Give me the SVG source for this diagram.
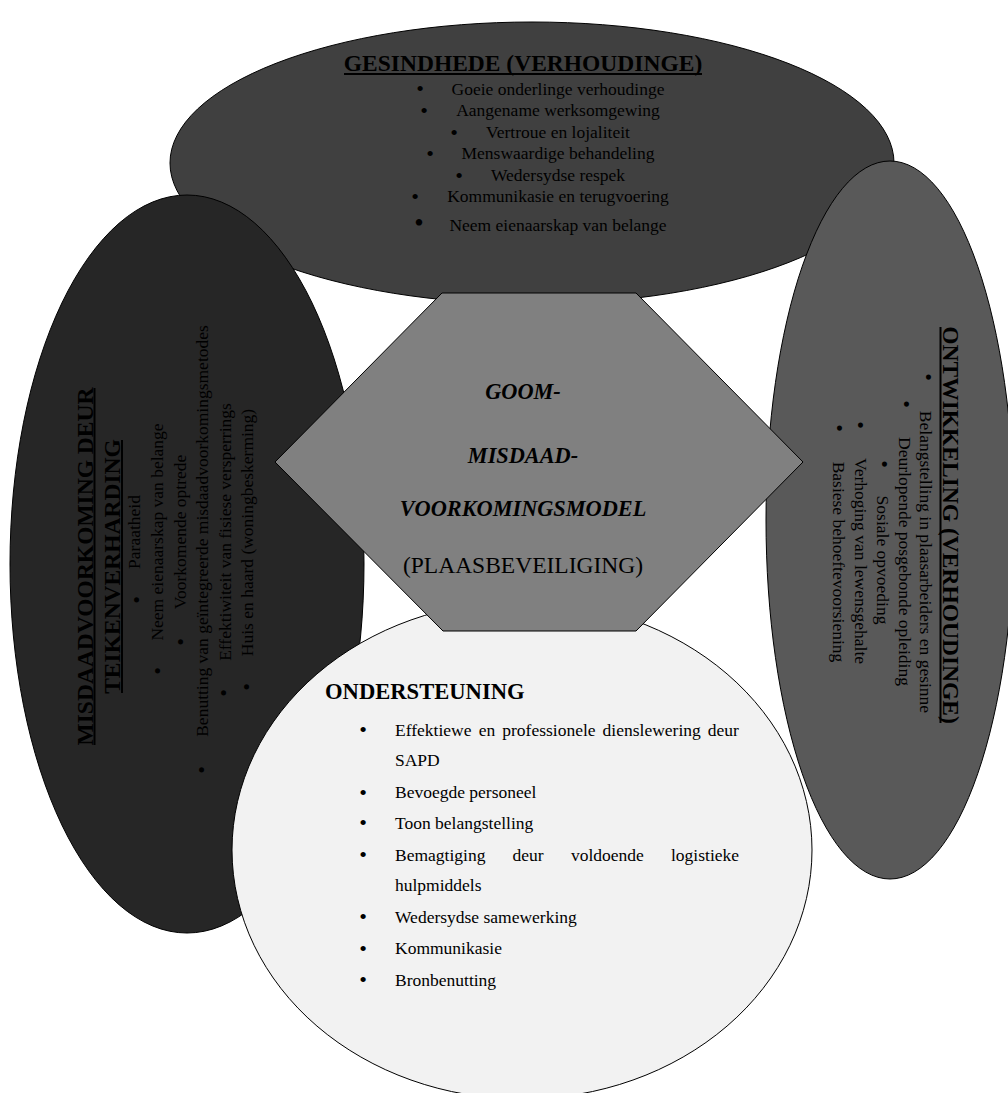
<svg xmlns="http://www.w3.org/2000/svg" width="1008" height="1093" viewBox="0 0 1008 1093">
<style>
.t{font-family:"Liberation Serif","Times New Roman",serif;fill:#000}
.title{font-size:23.5px;font-weight:bold}
.item{font-size:17.5px}
.bul{font-size:22px;text-anchor:middle}
.mid{text-anchor:middle}
.ul{stroke:#000;stroke-width:2}
.shape{stroke:#000;stroke-width:1}
.hexb{font-size:22.3px;font-weight:bold;font-style:italic}
</style>
<rect width="1008" height="1093" fill="#fff"/>

<g id="gesindhede">
<ellipse class="shape" cx="532" cy="163" rx="362" ry="141" fill="#404040"/>
<text class="t title mid" x="523" y="71">GESINDHEDE (VERHOUDINGE)</text>
<line class="ul" x1="344" y1="74" x2="702" y2="74"/>
<g class="t">
<text class="item mid" x="558" y="95">Goeie onderlinge verhoudinge</text>
<text class="item mid" x="558" y="116">Aangename werksomgewing</text>
<text class="item mid" x="558" y="137.5">Vertroue en lojaliteit</text>
<text class="item mid" x="558" y="159">Menswaardige behandeling</text>
<text class="item mid" x="558" y="181">Wedersydse respek</text>
<text class="item mid" x="558" y="202">Kommunikasie en terugvoering</text>
<text class="item mid" x="558" y="231">Neem eienaarskap van belange</text>
<text class="bul" x="420" y="96.3">•</text>
<text class="bul" x="424" y="118">•</text>
<text class="bul" x="454" y="139.7">•</text>
<text class="bul" x="430" y="161">•</text>
<text class="bul" x="459" y="183">•</text>
<text class="bul" x="415" y="203.7">•</text>
<text class="bul" x="419" y="232" style="font-size:27px">•</text>
</g>
</g>

<g id="misdaadvoorkoming">
<ellipse class="shape" cx="187" cy="564" rx="177" ry="369" fill="#262626"/>
<g transform="rotate(-90)" class="t">
<text class="title mid" x="-566.5" y="92.5">MISDAADVOORKOMING DEUR</text>
<line class="ul" x1="-745" y1="94.5" x2="-388" y2="94.5"/>
<text class="title mid" x="-566.5" y="120">TEIKENVERHARDING</text>
<line class="ul" x1="-693" y1="122" x2="-440" y2="122"/>
<text class="item mid" x="-532" y="140">Paraatheid</text>
<text class="item mid" x="-532" y="163">Neem eienaarskap van belange</text>
<text class="item mid" x="-532" y="186">Voorkomende optrede</text>
<text class="item mid" x="-531" y="208">Benutting van geïntegreerde misdaadvoorkomingsmetodes</text>
<text class="item mid" x="-532" y="231">Effektiwiteit van fisiese versperrings</text>
<text class="item mid" x="-532.5" y="253">Huis en haard (woningbeskerming)</text>
<text class="bul" x="-600" y="144">•</text>
<text class="bul" x="-671" y="165">•</text>
<text class="bul" x="-642" y="188">•</text>
<text class="bul" x="-770" y="209">•</text>
<text class="bul" x="-693" y="231">•</text>
<text class="bul" x="-687" y="254">•</text>
</g>
</g>

<g id="ontwikkeling">
<ellipse class="shape" cx="890" cy="520" rx="124" ry="359" fill="#595959"/>
<g transform="rotate(90)" class="t">
<text class="title mid" x="525" y="-943">ONTWIKKELING (VERHOUDINGE)</text>
<line class="ul" x1="327" y1="-940.5" x2="723" y2="-940.5"/>
<text class="item mid" x="562" y="-920">Belangstelling in plaasarbeiders en gesinne</text>
<text class="item mid" x="561.5" y="-899">Deurlopende posgebonde opleiding</text>
<text class="item mid" x="560" y="-877">Sosiale opvoeding</text>
<text class="item mid" x="561" y="-855">Verhoging van lewensgehalte</text>
<text class="item mid" x="562" y="-833">Basiese behoeftevoorsiening</text>
<text class="bul" x="377" y="-921">•</text>
<text class="bul" x="404" y="-899">•</text>
<text class="bul" x="464" y="-877">•</text>
<text class="bul" x="425" y="-853">•</text>
<text class="bul" x="428" y="-832">•</text>
</g>
</g>

<g id="ondersteuning">
<ellipse class="shape" cx="522" cy="850" rx="290" ry="249" fill="#f2f2f2"/>
<g class="t">
<text x="325" y="699" style="font-size:22.6px;font-weight:bold">ONDERSTEUNING</text>
<text class="item" y="736"><tspan x="395">Effektiewe</tspan><tspan x="478.8">en</tspan><tspan x="502.3">professionele</tspan><tspan x="602.6">dienslewering</tspan><tspan x="707.8">deur</tspan></text>
<text class="item" x="395" y="766">SAPD</text>
<text class="item" x="395" y="798">Bevoegde personeel</text>
<text class="item" x="395" y="829">Toon belangstelling</text>
<text class="item" y="861"><tspan x="395">Bemagtiging</tspan><tspan x="512.6">deur</tspan><tspan x="570.9">voldoende</tspan><tspan x="671">logistieke</tspan></text>
<text class="item" x="395" y="891">hulpmiddels</text>
<text class="item" x="395" y="923">Wedersydse samewerking</text>
<text class="item" x="395" y="954">Kommunikasie</text>
<text class="item" x="395" y="986">Bronbenutting</text>
<text class="bul" x="363" y="737">•</text>
<text class="bul" x="363" y="799.7">•</text>
<text class="bul" x="363" y="830.3">•</text>
<text class="bul" x="363" y="862">•</text>
<text class="bul" x="363" y="923.7">•</text>
<text class="bul" x="363" y="956.3">•</text>
<text class="bul" x="363" y="987">•</text>
</g>
</g>

<g id="model">
<polygon class="shape" points="442,293 636,293 803,462 636,631 443,631 275,462" fill="#808080"/>
<g class="t">
<text class="hexb mid" x="523" y="399">GOOM-</text>
<text class="hexb mid" x="523" y="463">MISDAAD-</text>
<text class="hexb mid" x="523" y="516">VOORKOMINGSMODEL</text>
<text class="mid" x="523" y="573" style="font-size:23.5px">(PLAASBEVEILIGING)</text>
</g>
</g>

<g id="connectors"></g>
</svg>
